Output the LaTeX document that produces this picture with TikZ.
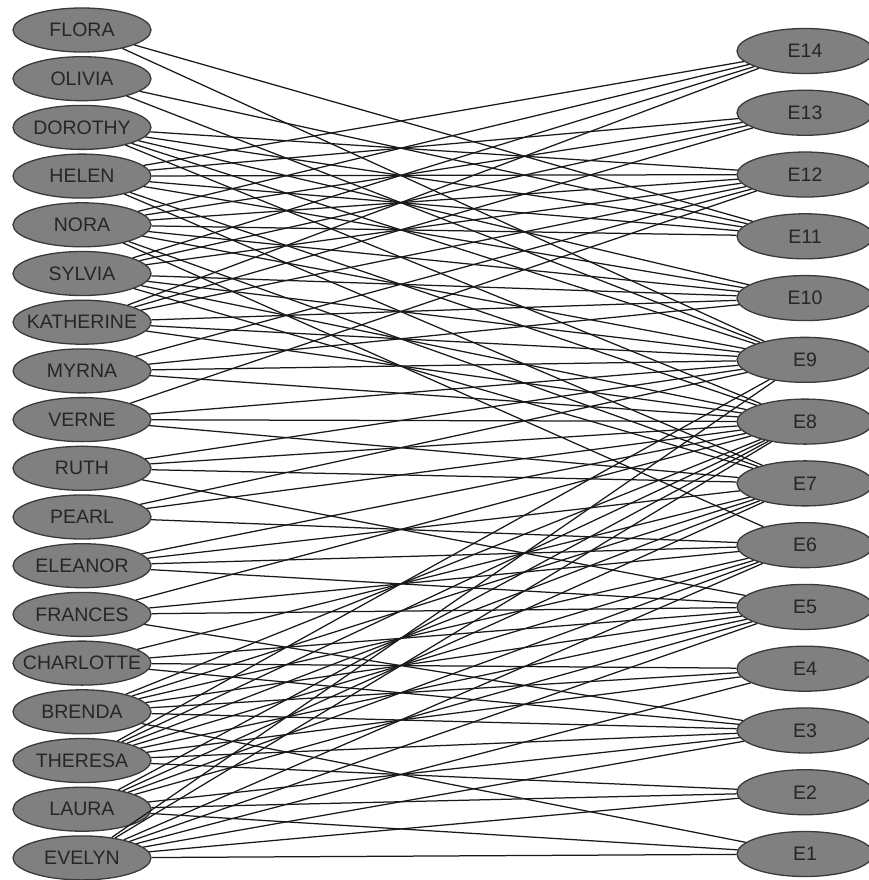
\documentclass[tikz,border=0pt]{standalone}
\usepackage{fontspec}
\setmainfont{Liberation Sans}
\usetikzlibrary{shapes.geometric}
\definecolor{nodefill}{HTML}{808080}
\definecolor{nodeline}{HTML}{3A3A3A}
\definecolor{txt}{HTML}{262626}
\begin{document}
\begin{tikzpicture}[x=1pt,y=-1pt,
  person/.style={ellipse, draw=nodeline, fill=nodefill, line width=1.3pt,
    minimum width=138pt, minimum height=44pt, inner sep=0pt, text=txt,
    font=\fontsize{19.5}{22}\selectfont},
  event/.style={person, minimum width=136pt, minimum height=45pt},
  tie/.style={draw=black!90, line width=1.25pt}]
\useasboundingbox (0,0) rectangle (868,880);
\foreach \n [count=\i from 0] in {FLORA,OLIVIA,DOROTHY,HELEN,NORA,SYLVIA,KATHERINE,MYRNA,VERNE,RUTH,PEARL,ELEANOR,FRANCES,CHARLOTTE,BRENDA,THERESA,LAURA,EVELYN}
  \node[person] (\n) at (82,{30+48.7*\i}) {\makebox[0pt]{\n}};
\foreach \k in {1,...,14}
  \node[event] (e\k) at (805,{854-61.77*(\k-1)}) {\makebox[0pt]{E\k}};
\foreach \w/\evs in {EVELYN/{1,2,3,4,5,6,8,9},
    LAURA/{1,2,3,5,6,7,8},
    THERESA/{2,3,4,5,6,7,8,9},
    BRENDA/{1,3,4,5,6,7,8},
    CHARLOTTE/{3,4,5,7},
    FRANCES/{3,5,6,8},
    ELEANOR/{5,6,7,8},
    PEARL/{6,8,9},
    RUTH/{5,7,8,9},
    VERNE/{7,8,9,12},
    MYRNA/{8,9,10,12},
    KATHERINE/{8,9,10,12,13,14},
    SYLVIA/{7,8,9,10,12,13,14},
    NORA/{6,7,9,10,11,12,13,14},
    HELEN/{7,8,10,11,12,13,14},
    DOROTHY/{8,9,10,11,12},
    OLIVIA/{9,11},
    FLORA/{9,11}}
  \foreach \e in \evs
    \draw[tie] (\w) -- (e\e);
\end{tikzpicture}
\end{document}
